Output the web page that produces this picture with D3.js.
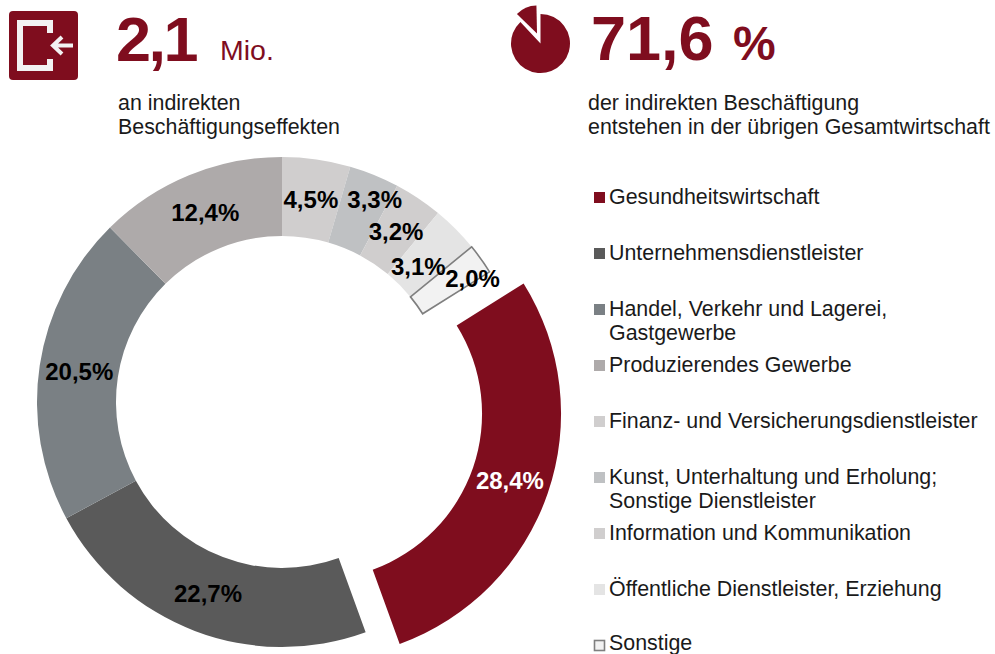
<!DOCTYPE html>
<html><head><meta charset="utf-8">
<script src="https://cdn.jsdelivr.net/npm/d3@7"></script>
<style>html,body{margin:0;padding:0;background:#fff}svg{display:block}text{font-family:"Liberation Sans",Arial,sans-serif}</style>
</head><body><svg id="c" width="995" height="654"></svg>
<script>
const categories=["Finanz- und Versicherungsdienstleister","Kunst, Unterhaltung und Erholung;|Sonstige Dienstleister","Information und Kommunikation","Öffentliche Dienstleister, Erziehung","Sonstige","Gesundheitswirtschaft","Unternehmensdienstleister","Handel, Verkehr und Lagerei,|Gastgewerbe","Produzierendes Gewerbe"];
const values=[4.5,3.3,3.2,3.1,2.0,28.4,22.7,20.5,12.4];
const colors=["#d0cece","#bfc1c3","#d0cece","#e4e4e4","#f2f2f2","#7f0d1e","#5a5a5a","#7a8084","#aeaaaa"];
const legendOrder=[5,6,7,8,0,1,2,3,4];
const legendBaselines=[204,260,316,372,428,484,540,596,649.5];
const labelNudge=[[0,0],[15.5,-13],[0,0],[-9,9],[24,-4],[0,0],[-1,0],[0,0],[1,0]];
const fmt=v=>v.toFixed(1).replace(".",",")+"%";

const svg=d3.select("#c");
const cx=282,cy=402,R=245,r=166,explode=36;
const pie=d3.pie().sort(null).value(d=>d)(values);
const arc=d3.arc().innerRadius(r).outerRadius(R);
const labelArc=d3.arc().innerRadius(205).outerRadius(205);
const g=svg.append("g").attr("transform",`translate(${cx},${cy})`);
const off=d=>{const m=(d.startAngle+d.endAngle)/2;return d.index===5?[explode*Math.sin(m),-explode*Math.cos(m)]:[0,0];};
g.selectAll("path.s").data(pie).join("path").attr("class","s")
 .attr("d",arc).attr("transform",d=>`translate(${off(d)})`)
 .attr("fill",d=>colors[d.index])
 .attr("stroke",d=>d.index===4?"#7f7f7f":"none").attr("stroke-width",1.6);
g.selectAll("text.l").data(pie).join("text").attr("class","l")
 .attr("transform",d=>{const c=labelArc.centroid(d),o=off(d),n=labelNudge[d.index];return `translate(${c[0]+o[0]+n[0]},${c[1]+o[1]+n[1]})`;})
 .attr("text-anchor","middle").attr("dy","0.36em")
 .attr("font-size",24).attr("font-weight","bold")
 .attr("fill",d=>d.index===5?"#fff":"#000")
 .text(d=>fmt(d.data));

// header
const red="#7f0d1e";
svg.append("rect").attr("x",9).attr("y",11).attr("width",69).attr("height",69).attr("rx",4).attr("fill",red);
svg.append("path").attr("d","M50 33V23H20V68H50V59").attr("fill","none").attr("stroke","#f2f2f2").attr("stroke-width",6);
svg.append("path").attr("d","M73 45.500H54M62 37L53 45.500L62 54").attr("fill","none").attr("stroke","#f2f2f2").attr("stroke-width",4);
const t=(x,y,s,size,weight,fill)=>svg.append("text").attr("x",x).attr("y",y).attr("font-size",size).attr("font-weight",weight||"normal").attr("fill",fill||"#1a1a1a").text(s);
t(116,61,"2,1",63,"bold",red).attr("letter-spacing",-2.5);
t(220,60,"Mio.",28.5,"normal",red);
t(118,110,"an indirekten",21.4);
t(118,134,"Beschäftigungseffekten",21.4);
const mini=d3.arc().innerRadius(0);
svg.append("path").attr("transform","translate(540.500,43.500)").attr("fill",red)
 .attr("d",mini({outerRadius:29.5,startAngle:0,endAngle:2*Math.PI-0.75}));
svg.append("path").attr("transform","translate(537,33.500)").attr("fill",red)
 .attr("d",mini({outerRadius:28,startAngle:-0.8,endAngle:-0.02}));
t(591,60,"71,6",63,"bold",red);
t(733,60,"%",48,"bold",red);
t(588,110,"der indirekten Beschäftigung",21.4);
t(588,134,"entstehen in der übrigen Gesamtwirtschaft",21.4);

// legend
const lg=svg.append("g");
legendOrder.forEach((idx,i)=>{
  const y=legendBaselines[i];
  const hollow=idx===4;
  lg.append("rect").attr("x",hollow?594.5:594).attr("y",hollow?640.5:y-12).attr("width",hollow?10:11).attr("height",hollow?10:11)
    .attr("fill",colors[idx]).attr("stroke",hollow?"#7f7f7f":"none").attr("stroke-width",1.6);
  categories[idx].split("|").forEach((s,k)=>{
    lg.append("text").attr("x",609).attr("y",y+k*24).attr("font-size",21.4).attr("fill","#1a1a1a").text(s);
  });
});
</script></body></html>
